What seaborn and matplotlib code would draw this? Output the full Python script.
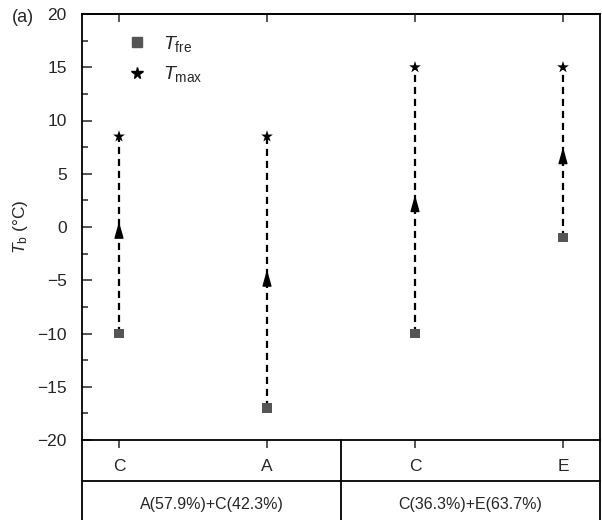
import matplotlib
matplotlib.use("Agg")
import matplotlib.pyplot as plt
import seaborn as sns
import pandas as pd
import numpy as np
from matplotlib.ticker import MultipleLocator
from matplotlib.lines import Line2D

# ---- data ----
categories = ["C", "A", "C", "E"]
t_fre = [-10, -17, -10, -1]
t_max = [8.5, 8.5, 15, 15]
arrow_tip = [0.5, -4.0, 3.0, 7.5]
groups = ["A(57.9%)+C(42.3%)", "C(36.3%)+E(63.7%)"]
panel_label = "(a)"

sns.set_style("ticks")
plt.rcParams["font.family"] = ["Liberation Sans", "DejaVu Sans"]
plt.rcParams["mathtext.fontset"] = "custom"
plt.rcParams["mathtext.rm"] = "Liberation Sans"
plt.rcParams["mathtext.it"] = "Liberation Sans:italic"
plt.rcParams["mathtext.bf"] = "Liberation Sans:bold"

pos = np.arange(len(categories))
df = pd.DataFrame({"pos": pos, "cat": categories, "fre": t_fre, "max": t_max})

fig = plt.figure(figsize=(6.02, 5.2), dpi=100)
L, R = 82 / 602, 600 / 602
B, T = 1 - 440 / 520, 1 - 14 / 520
ax = fig.add_axes([L, B, R - L, T - B])

# dashed connectors
for x, y0, y1 in zip(pos, t_fre, t_max):
    ax.plot([x, x], [y0, y1], color="black", lw=1.6, ls=(0, (3.2, 2.2)), zorder=1)
# arrowheads
for x, tip in zip(pos, arrow_tip):
    ax.annotate("", xy=(x, tip), xytext=(x, tip - 0.9),
                arrowprops=dict(arrowstyle="-|>,head_length=1.0,head_width=0.28",
                                color="black", lw=1.0, mutation_scale=10,
                                shrinkA=0, shrinkB=0), zorder=3)

sns.scatterplot(data=df, x="pos", y="fre", marker="s", s=45, color="#555555",
                edgecolor="none", ax=ax, zorder=4, legend=False)
sns.scatterplot(data=df, x="pos", y="max", marker="*", s=80, color="black",
                edgecolor="none", ax=ax, zorder=4, legend=False)

ax.set_xlim(-0.25, 3.25)
ax.set_ylim(-20, 20)
ax.yaxis.set_major_locator(MultipleLocator(5))
ax.yaxis.set_minor_locator(MultipleLocator(2.5))
ax.set_xticks(pos)
ax.set_xticklabels(categories)
ax.set_xlabel("")
ax.set_ylabel(r"$T_{\rm b}$ (°C)", fontsize=12.5, labelpad=5)

ax.tick_params(axis="y", which="major", direction="in", length=7, width=1.1,
               labelsize=12.5, pad=11, right=False)
ax.tick_params(axis="y", which="minor", direction="in", length=4, width=1.1, right=False)
ax.tick_params(axis="x", which="major", direction="out", length=6, width=1.1,
               labelsize=12.5, pad=8, top=False)
for s in ax.spines.values():
    s.set_linewidth(1.3)
    s.set_color("black")

# top ticks inward
sec = ax.secondary_xaxis("top")
sec.set_xticks(pos)
sec.set_xticklabels([])
sec.tick_params(direction="in", length=6, width=1.1)
sec.spines["top"].set_linewidth(1.3)

# table below
lw = 1.3
fig.add_artist(Line2D([L, R], [1 - 481 / 520] * 2, color="black", lw=lw))
for xf in [L, 341 / 602, R]:
    fig.add_artist(Line2D([xf, xf], [0, B], color="black", lw=lw))
fig.text((82 + 341) / 2 / 602, 1 - 505 / 520, groups[0], ha="center", va="center", fontsize=11.5)
fig.text((341 + 600) / 2 / 602, 1 - 505 / 520, groups[1], ha="center", va="center", fontsize=11.5)

# panel label
fig.text(12 / 602, 1 - 18 / 520, panel_label, ha="left", va="center", fontsize=13)

# legend
handles = [Line2D([], [], marker="s", ls="none", color="#555555", markersize=6.5),
           Line2D([], [], marker="*", ls="none", color="black", markersize=8.5)]
ax.legend(handles, [r"$T_{\rm fre}$", r"$T_{\rm max}$"], loc="upper left",
          bbox_to_anchor=(0.045, 0.995), frameon=False, fontsize=14,
          labelspacing=0.55, handletextpad=0.55, handlelength=1.5)

fig.savefig("out.png", dpi=100)
